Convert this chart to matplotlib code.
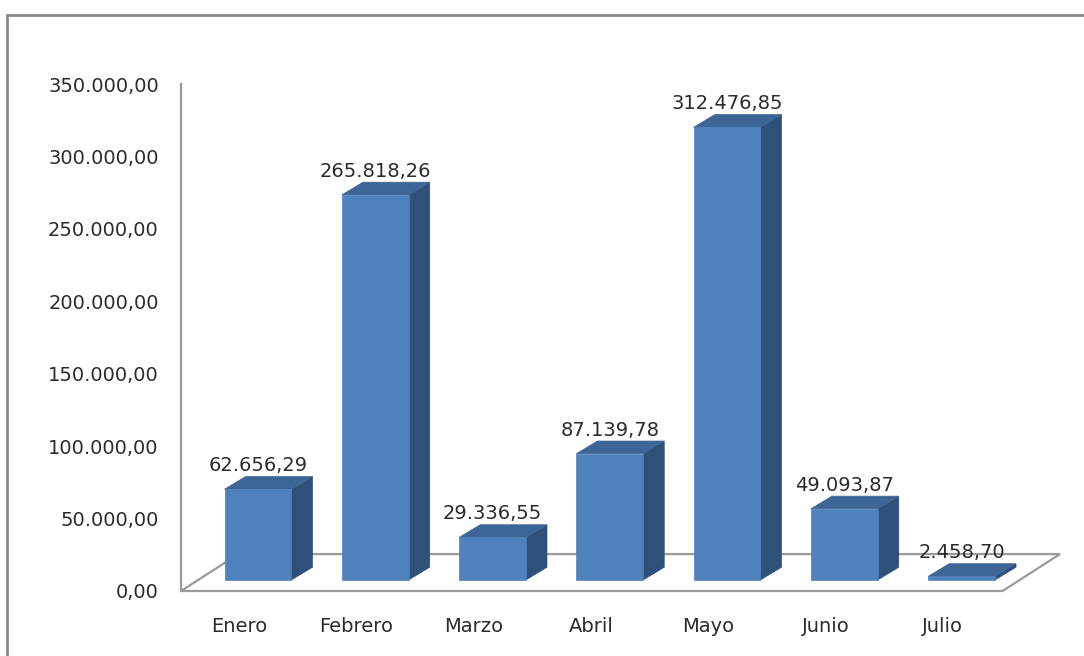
import numpy as np
import matplotlib
matplotlib.use("Agg")
import matplotlib.pyplot as plt
from matplotlib.patches import Polygon, Rectangle
import matplotlib.ticker as mticker

# ── Data ───────────────────────────────────────────────────────
months = ["Enero", "Febrero", "Marzo", "Abril", "Mayo", "Junio", "Julio"]
values = [62656.29, 265818.26, 29336.55, 87139.78, 312476.85, 49093.87, 2458.70]
yticks = [0, 50000, 100000, 150000, 200000, 250000, 300000, 350000]

# ── Style ──────────────────────────────────────────────────────
FRONT = "#4f81bd"
TOP = "#3d6696"
SIDE = "#2f5079"
GRID = "#9a9a9a"
TEXT = "#2b2b2b"

BAR_W = 0.57        # front face width (category units)
DX, DY = 0.18, 8800  # bar depth offset
BASE = 7600          # bars stand in the middle of the floor
FDX, FDY = 0.49, 25500  # floor depth offset


def es_fmt(v):
    s = f"{v:,.2f}"
    return s.replace(",", "X").replace(".", ",").replace("X", ".")


fig = plt.figure(figsize=(10.84, 6.56), dpi=100)
ax = fig.add_axes([181 / 1084, 65 / 656, 879 / 1084, 507 / 656])

x = np.arange(len(months))
x0, x1 = -0.656, 6.84
ax.set_xlim(x0, x1)
ax.set_ylim(0, 350000)

# floor
floor = Polygon([(x0, 0), (x1 - FDX, 0), (x1, FDY), (x0 + FDX, FDY)],
                closed=True, facecolor="white", edgecolor=GRID, linewidth=1.6,
                zorder=1, clip_on=False)
ax.add_patch(floor)

# 3D-looking bars
for xi, v in zip(x, values):
    l, r = xi - BAR_W / 2, xi + BAR_W / 2
    b, t = BASE, BASE + v
    side = Polygon([(r, b), (r + DX, b + DY), (r + DX, t + DY), (r, t)],
                   closed=True, facecolor=SIDE, edgecolor=SIDE, linewidth=0.5, zorder=3)
    top = Polygon([(l, t), (l + DX, t + DY), (r + DX, t + DY), (r, t)],
                  closed=True, facecolor=TOP, edgecolor=TOP, linewidth=0.5, zorder=3)
    front = Rectangle((l, b), BAR_W, v, facecolor=FRONT, edgecolor=FRONT,
                      linewidth=0.5, zorder=4)
    ax.add_patch(side)
    ax.add_patch(top)
    ax.add_patch(front)
    ax.annotate(es_fmt(v), (xi, t + DY), xytext=(0, 1), textcoords="offset points",
                ha="center", va="bottom", fontsize=14, color=TEXT, zorder=5)

# axes styling
for s in ["top", "right", "bottom"]:
    ax.spines[s].set_visible(False)
ax.spines["left"].set_color(GRID)
ax.spines["left"].set_linewidth(1.6)

ax.set_yticks(yticks)
ax.yaxis.set_major_formatter(mticker.FuncFormatter(lambda v, p: es_fmt(v)))
ax.tick_params(axis="y", length=0, pad=16, labelsize=14, labelcolor=TEXT)

ax.set_xticks(x - 0.16)
ax.set_xticklabels(months)
ax.tick_params(axis="x", length=0, pad=19, labelsize=14, labelcolor=TEXT)

# chart area border
fig.add_artist(Rectangle((7 / 1084, -0.05), 1.1, (656 - 15) / 656 + 0.05,
                         transform=fig.transFigure, fill=False,
                         edgecolor="#8a8a8a", linewidth=2))

plt.savefig("out.png", dpi=100, facecolor="white")
plt.close()
